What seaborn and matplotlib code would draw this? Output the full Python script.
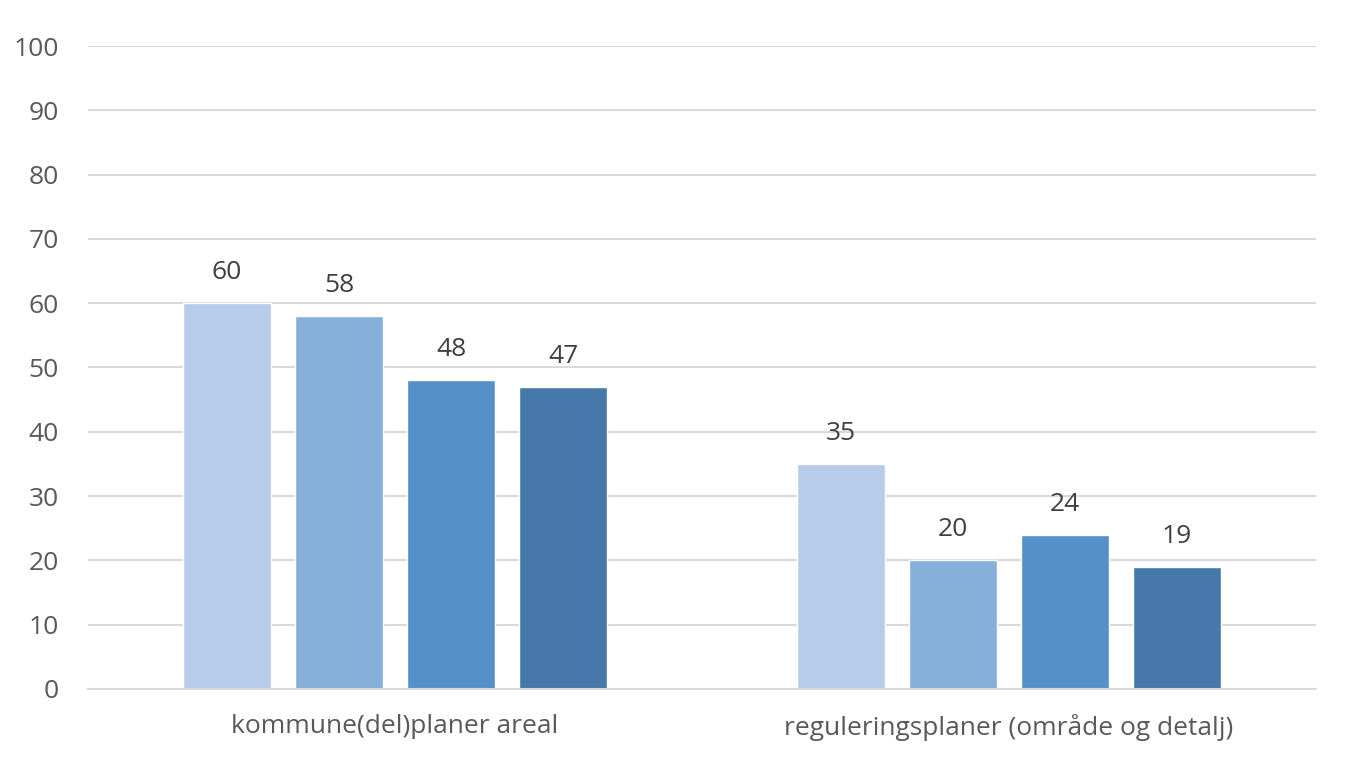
import matplotlib
matplotlib.use("Agg")
import matplotlib.pyplot as plt
import seaborn as sns
import pandas as pd

categories = ["kommune(del)planer areal", "reguleringsplaner (område og detalj)"]
series_names = ["Serie 1", "Serie 2", "Serie 3", "Serie 4"]
values = {
    "Serie 1": [60, 35],
    "Serie 2": [58, 20],
    "Serie 3": [48, 24],
    "Serie 4": [47, 19],
}
yticks = [0, 10, 20, 30, 40, 50, 60, 70, 80, 90, 100]
colors = ["#B7CCE8", "#86AFDC", "#5591C8", "#4679AA"]

rows = []
for s in series_names:
    for c, v in zip(categories, values[s]):
        rows.append({"cat": c, "series": s, "val": v})
df = pd.DataFrame(rows)

sns.set_theme(style="white")
plt.rcParams['font.family'] = ['Open Sans', 'DejaVu Sans']

fig = plt.figure(figsize=(13.56, 7.63), dpi=100)
ax = fig.add_axes([0.0649, 0.097, 0.9056, 0.8427])
sns.barplot(data=df, x="cat", y="val", hue="series", palette=colors,
            width=0.73, gap=0.22, ax=ax, legend=False, saturation=1)

ax.set_ylim(0, 100)
ax.set_xlim(-0.5, 1.5)
ax.set_yticks(yticks)
ax.set_yticklabels([str(t) for t in yticks])
ax.yaxis.grid(True, color="#D9D9D9", linewidth=1.5)
ax.set_axisbelow(True)
for sp in ["top", "right", "left"]:
    ax.spines[sp].set_visible(False)
ax.spines["bottom"].set_color("#D9D9D9")
ax.spines["bottom"].set_linewidth(1.5)
ax.tick_params(axis="both", length=0, labelsize=19, colors="#595959")
ax.tick_params(axis="y", pad=21)
ax.tick_params(axis="x", pad=18)
ax.set_xlabel("")
ax.set_ylabel("")

for cont in ax.containers:
    ax.bar_label(cont, labels=[f"{int(b.get_height())}" for b in cont],
                 padding=13, fontsize=19, color="#404040")

fig.savefig("out.png", dpi=100)
